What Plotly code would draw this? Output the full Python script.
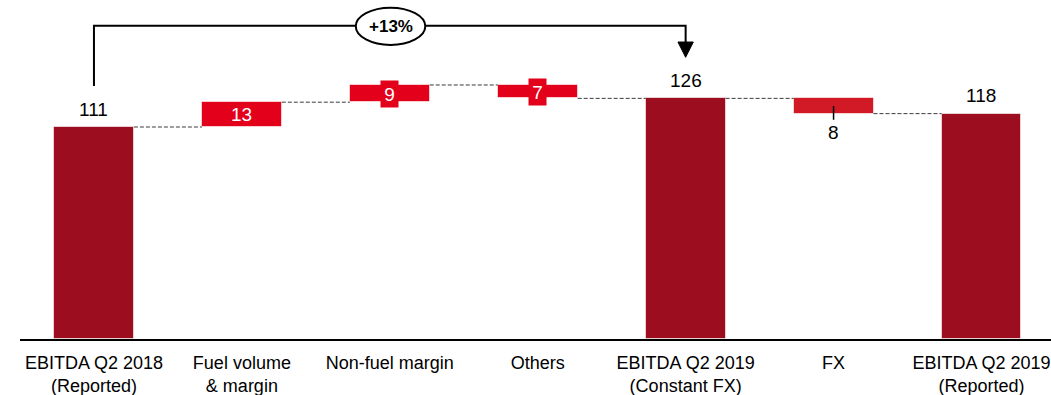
import plotly.graph_objects as go

# EBITDA bridge, Q2 2018 -> Q2 2019 (EUR m)
categories = [
    "EBITDA Q2 2018<br>(Reported)",
    "Fuel volume<br>& margin",
    "Non-fuel margin",
    "Others",
    "EBITDA Q2 2019<br>(Constant FX)",
    "FX",
    "EBITDA Q2 2019<br>(Reported)",
]
values = [111, 13, 9, -7, 126, -8, 118]
measures = ["total", "relative", "relative", "relative", "total", "relative", "total"]
growth_label = "+13%"

DARK_RED = "#9B0D1F"
RED = "#E3001B"
FX_RED = "#D21A27"
FONT = "Liberation Sans, Arial, sans-serif"

# bar bases / tops from the running total
bases, heights, levels = [], [], []
running = 0
for v, m in zip(values, measures):
    if m == "total":
        bases.append(0)
        heights.append(v)
        running = v
    else:
        start = running
        running = running + v
        bases.append(min(start, running))
        heights.append(abs(v))
    levels.append(running)

colors = []
for c, m in zip(categories, measures):
    if m == "total":
        colors.append(DARK_RED)
    elif c == "FX":
        colors.append(FX_RED)
    else:
        colors.append(RED)

x = list(range(len(categories)))
BAR_W = 0.54

fig = go.Figure(
    go.Bar(
        x=x,
        y=heights,
        base=bases,
        width=BAR_W,
        marker=dict(color=colors, line=dict(color="rgba(255,255,255,0.6)", width=1)),
        hoverinfo="skip",
    )
)

shapes = []
annotations = []

# dashed connectors between consecutive bars
for i in range(len(x) - 1):
    shapes.append(dict(
        type="line", xref="x", yref="y",
        x0=i + BAR_W / 2, x1=i + 1 - BAR_W / 2,
        y0=levels[i], y1=levels[i],
        line=dict(color="#3A3A3A", width=1, dash="4px,2px"),
    ))

# value labels
for i, (v, m) in enumerate(zip(values, measures)):
    if m == "total":
        annotations.append(dict(
            x=i, y=v, xref="x", yref="y", text=str(v), showarrow=False,
            yanchor="middle", yshift=18,
            font=dict(family=FONT, size=19, color="#000000"),
        ))
    elif categories[i] == "FX":
        # label below the bar, tied to it with a short tick
        bottom = bases[i]
        mid = bases[i] + heights[i] / 2
        shapes.append(dict(
            type="line", xref="x", yref="y", x0=i, x1=i,
            y0=mid, y1=bottom - 3.2, line=dict(color="#000000", width=1.5),
        ))
        annotations.append(dict(
            x=i, y=bottom, xref="x", yref="y", text=str(abs(v)), showarrow=False,
            yanchor="middle", yshift=-19,
            font=dict(family=FONT, size=19, color="#000000"),
        ))
    else:
        mid = bases[i] + heights[i] / 2
        small = heights[i] < 12
        annotations.append(dict(
            x=i, y=mid, xref="x", yref="y", text=str(abs(v)), showarrow=False,
            yanchor="middle",
            font=dict(family=FONT, size=19, color="#FFFFFF"),
            bgcolor=colors[i] if small else None,
            width=17 if small else None,
            height=26 if small else None,
            borderpad=0,
        ))

# growth bracket from the 2018 bar to the 2019 constant-FX bar
start_i, end_i = 0, 4
offset = 21.5
top = 164
head_base = values[end_i] + offset + 8
shapes.append(dict(
    type="path", xref="x", yref="y",
    path=f"M {start_i},{values[start_i] + offset} L {start_i},{top} L {end_i},{top} L {end_i},{head_base}",
    line=dict(color="#000000", width=2),
))
shapes.append(dict(
    type="path", xref="x", yref="y",
    path=f"M {end_i - 0.052},{head_base} L {end_i + 0.052},{head_base} L {end_i},{values[end_i] + offset} Z",
    fillcolor="#000000", line=dict(color="#000000", width=1),
))
shapes.append(dict(
    type="circle", xref="x", yref="y",
    x0=1.77, x1=2.24, y0=154, y1=173.5,
    fillcolor="#FFFFFF", line=dict(color="#000000", width=2),
))
annotations.append(dict(
    x=2.005, y=163.6, xref="x", yref="y", text=f"<b>{growth_label}</b>",
    showarrow=False, font=dict(family=FONT, size=17, color="#000000"),
))

fig.update_layout(
    width=1051, height=395,
    margin=dict(l=20, r=0, t=0, b=56),
    plot_bgcolor="#FFFFFF", paper_bgcolor="#FFFFFF",
    showlegend=False,
    shapes=shapes,
    annotations=annotations,
    bargap=0,
    xaxis=dict(
        range=[-0.5, 6.47], tickmode="array", tickvals=x, ticktext=categories,
        showgrid=False, zeroline=False, showline=True, linecolor="#000000", linewidth=2,
        ticks="", tickfont=dict(family=FONT, size=18, color="#000000"),
        ticklabelstandoff=6,
        fixedrange=True,
    ),
    yaxis=dict(
        range=[0, 177.5], visible=False, showgrid=False, zeroline=False, fixedrange=True,
    ),
)

fig.write_html("out.html")
